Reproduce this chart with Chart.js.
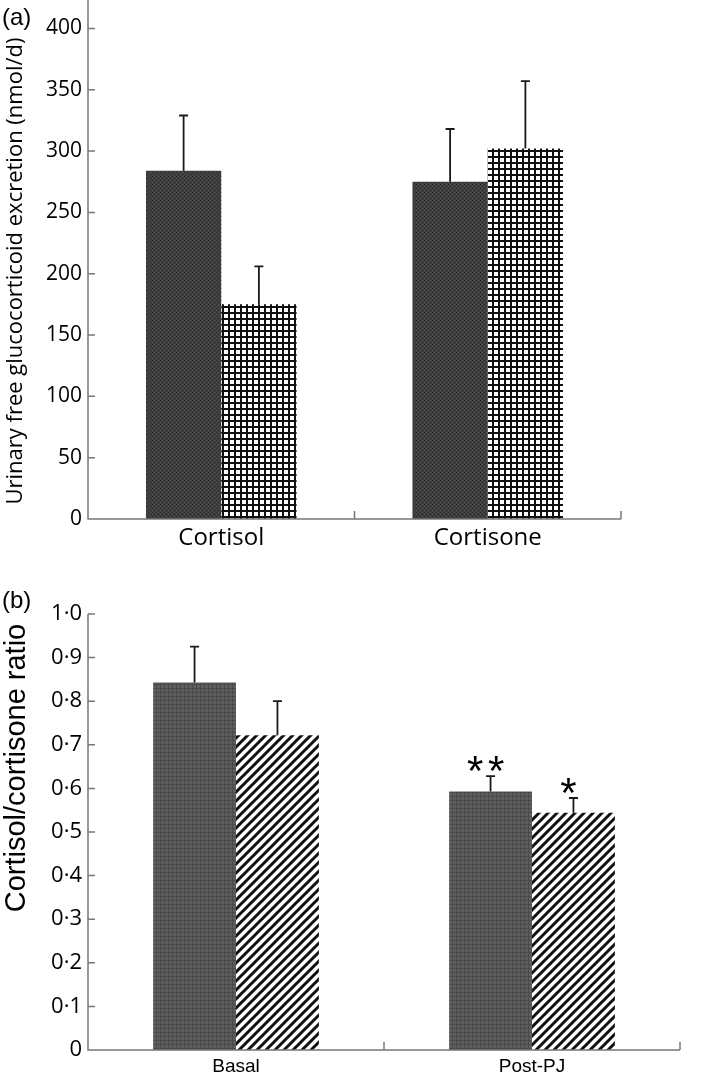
<!DOCTYPE html>
<html>
<head>
<meta charset="utf-8">
<script src="https://cdn.jsdelivr.net/npm/chart.js@4.4.0/dist/chart.umd.min.js"></script>
<style>
  body { margin: 0; background: #fff; }
  .panel { position: absolute; left: 0; }
</style>
</head>
<body>
<div class="panel" style="top:0"><canvas id="chartA" width="727" height="560"></canvas></div>
<div class="panel" style="top:560px"><canvas id="chartB" width="727" height="517"></canvas></div>
<script>
// ---- panel (a) data ----
const categoriesA = ['Cortisol', 'Cortisone'];
const meansA1 = [284, 275];
const semA1 = [45, 43];
const meansA2 = [175, 302];
const semA2 = [31, 55];
const yTicksA = [0, 50, 100, 150, 200, 250, 300, 350, 400];

// ---- panel (b) data ----
const categoriesB = ['Basal', 'Post-PJ'];
const meansB1 = [0.843, 0.593];
const semB1 = [0.082, 0.035];
const meansB2 = [0.722, 0.544];
const semB2 = [0.078, 0.034];
const sigB1 = ['', '**'];
const sigB2 = ['', '*'];
const yTicksB = [0, 0.1, 0.2, 0.3, 0.4, 0.5, 0.6, 0.7, 0.8, 0.9, 1.0];
const yTickLabelsB = ['0', '0·1', '0·2', '0·3', '0·4', '0·5', '0·6', '0·7', '0·8', '0·9', '1·0'];

const AXIS_COLOR = '#777';

function makePattern(size, draw) {
  const c = document.createElement('canvas');
  c.width = size;
  c.height = size;
  draw(c.getContext('2d'), size);
  return document.createElement('canvas').getContext('2d').createPattern(c, 'repeat');
}

// dark stippled fill (panel a, first series)
const darkDots = makePattern(4, (g) => {
  g.fillStyle = '#3e3e3e';
  g.fillRect(0, 0, 4, 4);
  g.fillStyle = '#282828';
  g.fillRect(0, 0, 1, 1);
  g.fillRect(2, 2, 1, 1);
  g.fillStyle = '#505050';
  g.fillRect(2, 0, 1, 1);
  g.fillRect(0, 2, 1, 1);
});

// open cross-hatch (panel a, second series)
const crossGrid = makePattern(6, (g) => {
  g.fillStyle = '#fff';
  g.fillRect(0, 0, 6, 6);
  g.fillStyle = '#111';
  g.fillRect(0, 0, 6, 2);
  g.fillRect(0, 0, 2, 6);
});

// grey fine grid (panel b, first series)
const greyGrid = makePattern(4, (g) => {
  g.fillStyle = '#5e5e5e';
  g.fillRect(0, 0, 4, 4);
  g.fillStyle = '#4a4a4a';
  g.fillRect(0, 0, 4, 1);
  g.fillRect(0, 0, 1, 4);
});

// diagonal stripes (panel b, second series)
const stripes = makePattern(9, (g, s) => {
  g.fillStyle = '#fff';
  g.fillRect(0, 0, s, s);
  g.strokeStyle = '#111';
  g.lineWidth = 3;
  g.beginPath();
  g.moveTo(0, s); g.lineTo(s, 0);
  g.moveTo(-2, 2); g.lineTo(2, -2);
  g.moveTo(s - 2, s + 2); g.lineTo(s + 2, s - 2);
  g.stroke();
});

/* error bars (upper half only) plus significance stars */
const errorBarsPlugin = {
  id: 'errorBars',
  afterDatasetsDraw(chart) {
    const { ctx, scales: { y } } = chart;
    ctx.save();
    chart.data.datasets.forEach((ds, di) => {
      const meta = chart.getDatasetMeta(di);
      meta.data.forEach((bar, i) => {
        const top = y.getPixelForValue(ds.data[i] + ds.errors[i]);
        ctx.strokeStyle = '#1a1a1a';
        ctx.lineWidth = 1.8;
        ctx.beginPath();
        ctx.moveTo(bar.x, bar.y);
        ctx.lineTo(bar.x, top);
        ctx.moveTo(bar.x - 4.5, top);
        ctx.lineTo(bar.x + 4.5, top);
        ctx.stroke();
        const mark = (ds.marks || [])[i];
        if (mark) {
          ctx.fillStyle = '#000';
          ctx.font = '42px "Liberation Sans"';
          ctx.textAlign = 'center';
          ctx.textBaseline = 'alphabetic';
          const n = mark.length;
          for (let k = 0; k < n; k++) {
            ctx.fillText('*', bar.x - 5 + (k - (n - 1) / 2) * 21, top + 9);
          }
        }
      });
    });
    ctx.restore();
  },
};

/* axis lines with inward tick marks, axis title and the panel letter */
const axesPlugin = {
  id: 'axesFrame',
  afterDraw(chart, args, opts) {
    const { ctx, chartArea: area, scales: { x, y } } = chart;
    ctx.save();
    ctx.strokeStyle = AXIS_COLOR;
    ctx.lineWidth = 1.5;
    ctx.beginPath();
    ctx.moveTo(area.left, opts.axisTop == null ? area.top : opts.axisTop);
    ctx.lineTo(area.left, area.bottom);
    ctx.lineTo(area.right, area.bottom);
    y.ticks.forEach(({ value }) => {
      const py = y.getPixelForValue(value);
      ctx.moveTo(area.left, py);
      ctx.lineTo(area.left + 7, py);
    });
    const step = x.getPixelForValue(1) - x.getPixelForValue(0);
    for (let i = 1; i <= x.ticks.length; i++) {
      const px = x.getPixelForValue(i) - step / 2;
      ctx.moveTo(px, area.bottom);
      ctx.lineTo(px, area.bottom - 8);
    }
    ctx.stroke();

    ctx.fillStyle = '#000';
    ctx.font = '24px "Liberation Sans"';
    ctx.textBaseline = 'middle';
    ctx.fillText(opts.letter, 2, opts.letterY);

    ctx.translate(opts.titleX, opts.titleY);
    ctx.rotate(-Math.PI / 2);
    ctx.font = opts.titleFont;
    ctx.textAlign = 'center';
    ctx.fillText(opts.title, 0, 0);
    ctx.restore();
  },
};

function buildOptions({ yMax, yTicks, tickLabel, tickFont, catFont, padRight, xHeight, padTop, frame }) {
  return {
    responsive: false,
    animation: false,
    layout: { padding: { left: 0, right: padRight, top: padTop, bottom: 0 } },
    plugins: {
      legend: { display: false },
      tooltip: { enabled: false },
      axesFrame: frame,
    },
    scales: {
      x: {
        grid: { display: false, drawTicks: false },
        border: { display: false },
        ticks: { color: '#000', font: catFont, padding: 5 },
        afterFit(scale) { scale.height = xHeight; },
      },
      y: {
        min: 0,
        max: yMax,
        grid: { display: false, drawTicks: false },
        border: { display: false },
        afterBuildTicks(scale) { scale.ticks = yTicks.map(v => ({ value: v })); },
        afterFit(scale) { scale.width = 88; },
        ticks: {
          color: '#000',
          font: tickFont,
          padding: 6,
          callback: tickLabel,
        },
      },
    },
  };
}

new Chart(document.getElementById('chartA').getContext('2d'), {
  type: 'bar',
  data: {
    labels: categoriesA,
    datasets: [
      { data: meansA1, errors: semA1, backgroundColor: darkDots, categoryPercentage: 0.565, barPercentage: 1 },
      { data: meansA2, errors: semA2, backgroundColor: crossGrid, categoryPercentage: 0.565, barPercentage: 1 },
    ],
  },
  options: buildOptions({
    yMax: 408,
    yTicks: yTicksA,
    tickLabel: v => String(v),
    tickFont: { family: 'Open Sans', size: 21 },
    catFont: { family: 'Open Sans', size: 24 },
    padRight: 106,
    xHeight: 41,
    padTop: 0,
    frame: {
      letter: '(a)',
      letterY: 18,
      axisTop: 0,
      title: 'Urinary free glucocorticoid excretion (nmol/d)',
      titleFont: '22px "Open Sans"',
      titleX: 16,
      titleY: 271,
    },
  }),
  plugins: [errorBarsPlugin, axesPlugin],
});

new Chart(document.getElementById('chartB').getContext('2d'), {
  type: 'bar',
  data: {
    labels: categoriesB,
    datasets: [
      { data: meansB1, errors: semB1, marks: sigB1, backgroundColor: greyGrid, categoryPercentage: 0.56, barPercentage: 1 },
      { data: meansB2, errors: semB2, marks: sigB2, backgroundColor: stripes, categoryPercentage: 0.56, barPercentage: 1 },
    ],
  },
  options: buildOptions({
    yMax: 1.0,
    yTicks: yTicksB,
    tickLabel: (v, i) => yTickLabelsB[i],
    tickFont: { family: 'Open Sans', size: 22 },
    catFont: { family: 'Liberation Sans', size: 19 },
    padRight: 47,
    xHeight: 27,
    padTop: 54,
    frame: {
      letter: '(b)',
      letterY: 41,
      axisTop: null,
      title: 'Cortisol/cortisone ratio',
      titleFont: '29px "Liberation Sans"',
      titleX: 17,
      titleY: 208,
    },
  }),
  plugins: [errorBarsPlugin, axesPlugin],
});
</script>
</body>
</html>
